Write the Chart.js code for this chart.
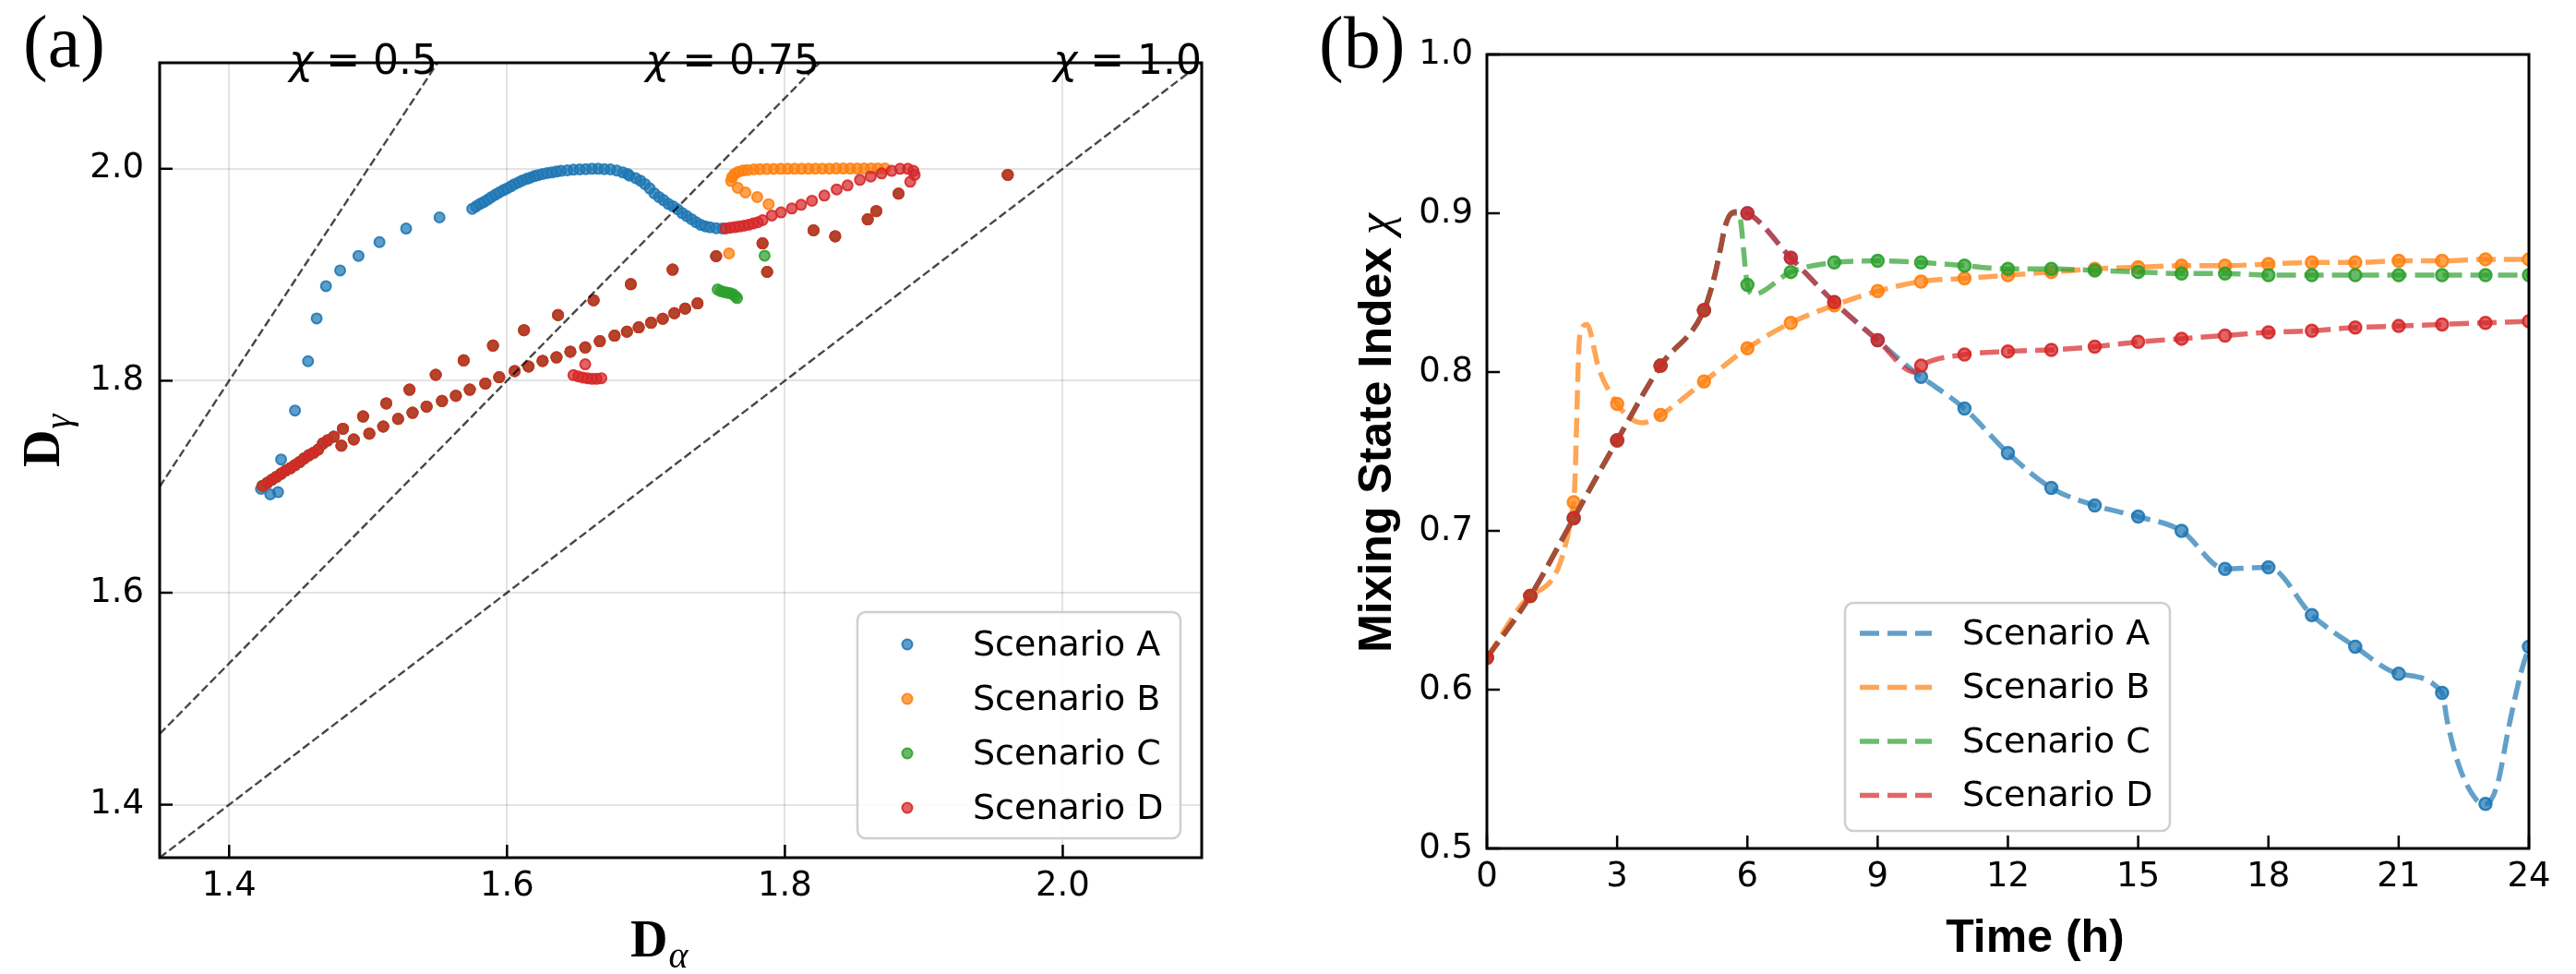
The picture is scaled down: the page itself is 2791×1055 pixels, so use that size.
<!DOCTYPE html>
<html>
<head>
<meta charset="utf-8">
<script src="https://cdn.jsdelivr.net/npm/chart.js@4.4.1/dist/chart.umd.min.js"></script>
<style>
  html, body { margin: 0; padding: 0; background: #fff; }
  #wrap { position: relative; width: 2791px; height: 1055px; overflow: hidden; background: #fff; }
  canvas { position: absolute; top: 0; }
  #panelA { left: 0; }
  #panelB { left: 1395px; }
</style>
</head>
<body>
<div id="wrap">
  <canvas id="panelA" width="1395" height="1055"></canvas>
  <canvas id="panelB" width="1396" height="1055"></canvas>
</div>
<script>
// ---------- shared ----------
const scenarioNames = ['Scenario A', 'Scenario B', 'Scenario C', 'Scenario D'];
const scenarioColors = [[31, 119, 180], [255, 127, 14], [44, 160, 44], [214, 39, 40]];

// ---------- panel (a): D_alpha vs D_gamma ----------
const alphaTicks = [1.4, 1.6, 1.8, 2.0];
const gammaTicks = [1.4, 1.6, 1.8, 2.0];

// chi reference lines (end points on the frame)
const refLabels = ['0.5', '0.75', '1.0'];
const refAlphaStart = [1.35, 1.35, 1.35];
const refGammaStart = [1.70, 1.4667, 1.35];
const refAlphaEnd = [1.55, 1.825, 2.10];
const refGammaEnd = [2.10, 2.10, 2.10];

// early trajectory, common to every scenario
const sharedAlpha = [1.4240, 1.4274, 1.4307, 1.4341, 1.4374, 1.4407, 1.4441, 1.4474, 1.4508, 1.4541, 1.4574, 1.4608, 1.4641, 1.4675, 1.4708, 1.4753,
  1.4819, 1.4964, 1.5131, 1.5298, 1.5487, 1.5688, 1.5899, 1.6122, 1.6367, 1.6623, 1.6891, 1.7192, 1.7505,
  1.4808, 1.4897, 1.5009, 1.5109, 1.5216, 1.5320, 1.5421, 1.5532, 1.5632, 1.5732, 1.5844, 1.5944, 1.6055, 1.6155,
  1.6256, 1.6356, 1.6456, 1.6563, 1.6668, 1.6774, 1.6863, 1.6948, 1.7037, 1.7121, 1.7204, 1.7282, 1.7371,
  1.7839, 1.7872, 1.8206, 1.8362, 1.8596, 1.8658, 1.8818, 1.9604];
const sharedGamma = [1.7007, 1.7036, 1.7065, 1.7094, 1.7123, 1.7152, 1.7175, 1.7204, 1.7233, 1.7268, 1.7297, 1.7320, 1.7350, 1.7408, 1.7437, 1.7472,
  1.7547, 1.7663, 1.7786, 1.7916, 1.8056, 1.8192, 1.8332, 1.8477, 1.8620, 1.8759, 1.8911, 1.9048, 1.9175,
  1.7387, 1.7446, 1.7501, 1.7568, 1.7640, 1.7698, 1.7756, 1.7809, 1.7858, 1.7916, 1.7974, 1.8033, 1.8091, 1.8134,
  1.8187, 1.8221, 1.8274, 1.8314, 1.8373, 1.8425, 1.8463, 1.8504, 1.8547, 1.8585, 1.8637, 1.8681, 1.8730,
  1.9296, 1.9027, 1.9419, 1.9363, 1.9523, 1.9600, 1.9765, 1.9942];

const onlyAAlpha = [1.4229, 1.4296, 1.4352, 1.4374, 1.4474, 1.4568, 1.4630, 1.4697, 1.4799, 1.4931, 1.5082, 1.5274, 1.5514,
  1.5750, 1.5777, 1.5806, 1.5833, 1.5862, 1.5888, 1.5917, 1.5944, 1.5973, 1.6000, 1.6028, 1.6055, 1.6084, 1.6111, 1.6140, 1.6167,
  1.6195, 1.6222, 1.6256, 1.6289, 1.6322, 1.6356, 1.6389, 1.6434, 1.6478, 1.6523, 1.6567, 1.6612, 1.6656, 1.6701, 1.6745, 1.6790,
  1.6834, 1.6868, 1.6881, 1.6926, 1.6960, 1.6993, 1.7027, 1.7060, 1.7094, 1.7127, 1.7161, 1.7194, 1.7228, 1.7261, 1.7294, 1.7328,
  1.7361, 1.7395, 1.7428, 1.7462, 1.7506, 1.7550];
const onlyAGamma = [1.6980, 1.6928, 1.6949, 1.7257, 1.7719, 1.8184, 1.8588, 1.8893, 1.9041, 1.9178, 1.9308, 1.9436, 1.9541,
  1.9622, 1.9645, 1.9669, 1.9686, 1.9709, 1.9733, 1.9756, 1.9776, 1.9797, 1.9814, 1.9834, 1.9855, 1.9872, 1.9890, 1.9904, 1.9916,
  1.9930, 1.9939, 1.9951, 1.9959, 1.9965, 1.9974, 1.9980, 1.9985, 1.9991, 1.9994, 1.9997, 2.0000, 2.0000, 1.9997, 1.9994, 1.9983,
  1.9965, 1.9951, 1.9935, 1.9911, 1.9888, 1.9855, 1.9815, 1.9768, 1.9733, 1.9704, 1.9669, 1.9646, 1.9617, 1.9582, 1.9553, 1.9524,
  1.9495, 1.9471, 1.9457, 1.9448, 1.9439, 1.9437];

const onlyBAlpha = [1.7883, 1.7801, 1.7716, 1.7661, 1.7613, 1.7620, 1.7638, 1.7664, 1.7697, 1.7731, 1.7776, 1.7820, 1.7870, 1.7920,
  1.7970, 1.8020, 1.8070, 1.8120, 1.8170, 1.8220, 1.8270, 1.8320, 1.8370, 1.8420, 1.8470, 1.8520, 1.8570, 1.8620, 1.8670, 1.8720, 1.7598];
const onlyBGamma = [1.9666, 1.9733, 1.9776, 1.9820, 1.9884, 1.9922, 1.9951, 1.9971, 1.9983, 1.9988, 1.9994, 1.9997, 1.9998, 1.9999,
  2.0000, 2.0000, 2.0000, 2.0000, 2.0000, 2.0001, 2.0001, 2.0001, 2.0002, 2.0002, 2.0002, 2.0002, 2.0003, 2.0003, 2.0003, 2.0003, 1.9201];

const onlyCAlpha = [1.7516, 1.7538, 1.7560, 1.7583, 1.7605, 1.7627, 1.7643, 1.7656, 1.7854];
const onlyCGamma = [1.8861, 1.8846, 1.8838, 1.8832, 1.8826, 1.8815, 1.8797, 1.8780, 1.9180];

const onlyDAlpha = [1.7572, 1.7605, 1.7639, 1.7672, 1.7706, 1.7739, 1.7772, 1.7806, 1.7839, 1.7906, 1.7972, 1.8050, 1.8117,
  1.8195, 1.8284, 1.8373, 1.8451, 1.8540, 1.8618, 1.8696, 1.8769, 1.8829, 1.8885, 1.8925, 1.8934, 1.8902,
  1.6478, 1.6512, 1.6545, 1.6578, 1.6612, 1.6645, 1.6679, 1.6563];
const onlyDGamma = [1.9437, 1.9443, 1.9449, 1.9455, 1.9463, 1.9472, 1.9484, 1.9495, 1.9515, 1.9559, 1.9588, 1.9625, 1.9660,
  1.9698, 1.9747, 1.9805, 1.9843, 1.9895, 1.9927, 1.9956, 1.9980, 2.0000, 2.0000, 1.9980, 1.9942, 1.9878,
  1.8053, 1.8041, 1.8030, 1.8024, 1.8018, 1.8018, 1.8024, 1.8155];

// ---------- panel (b): mixing state index over time ----------
const hourTicks = [0, 3, 6, 9, 12, 15, 18, 21, 24];
const chiTicks = [0.5, 0.6, 0.7, 0.8, 0.9, 1.0];
const hours = [0, 1, 2, 3, 4, 5, 6, 7, 8, 9, 10, 11, 12, 13, 14, 15, 16, 17, 18, 19, 20, 21, 22, 23, 24];
const chiA = [0.620, 0.659, 0.708, 0.757, 0.804, 0.839, 0.900, 0.872, 0.844, 0.820, 0.797, 0.777, 0.749, 0.727, 0.716, 0.709, 0.700, 0.676, 0.677, 0.647, 0.627, 0.610, 0.598, 0.528, 0.627];
const chiB = [0.620, 0.659, 0.718, 0.780, 0.773, 0.794, 0.815, 0.831, 0.842, 0.851, 0.857, 0.859, 0.861, 0.863, 0.865, 0.866, 0.867, 0.867, 0.868, 0.869, 0.869, 0.870, 0.870, 0.871, 0.871];
const chiC = [0.620, 0.659, 0.708, 0.757, 0.804, 0.839, 0.855, 0.863, 0.869, 0.870, 0.869, 0.867, 0.865, 0.865, 0.864, 0.863, 0.862, 0.862, 0.861, 0.861, 0.861, 0.861, 0.861, 0.861, 0.861];
const chiD = [0.620, 0.659, 0.708, 0.757, 0.804, 0.839, 0.900, 0.872, 0.844, 0.820, 0.804, 0.811, 0.813, 0.814, 0.816, 0.819, 0.821, 0.823, 0.825, 0.826, 0.828, 0.829, 0.830, 0.831, 0.832];

const extraTimeA = [5.24, 5.39, 5.48, 5.62, 5.76, 9.85, 22.12, 22.39, 22.78, 23.27, 23.54, 23.81];
const extraChiA = [0.860, 0.879, 0.891, 0.8996, 0.901, 0.800, 0.580, 0.552, 0.531, 0.540, 0.577, 0.610];
const extraTimeB = [2.14, 2.30, 2.58, 3.30, 3.57];
const extraChiB = [0.823, 0.830, 0.802, 0.771, 0.768];
const extraTimeC = [5.24, 5.39, 5.48, 5.62, 5.80, 6.14];
const extraChiC = [0.860, 0.879, 0.891, 0.8996, 0.900, 0.849];
const extraTimeD = [5.24, 5.39, 5.48, 5.62, 5.76, 9.85];
const extraChiD = [0.860, 0.879, 0.891, 0.8996, 0.901, 0.800];

// ---------- helpers ----------
const rgba = (c, a) => `rgba(${c[0]},${c[1]},${c[2]},${a})`;
const zip = (xs, ys) => xs.map((x, i) => ({ x: x, y: ys[i] }));
const TICK_FONT = { family: 'DejaVu Sans', size: 37 };

function roundRect(ctx, x, y, w, h, r) {
  ctx.beginPath();
  ctx.moveTo(x + r, y);
  ctx.lineTo(x + w - r, y);
  ctx.arcTo(x + w, y, x + w, y + r, r);
  ctx.lineTo(x + w, y + h - r);
  ctx.arcTo(x + w, y + h, x + w - r, y + h, r);
  ctx.lineTo(x + r, y + h);
  ctx.arcTo(x, y + h, x, y + h - r, r);
  ctx.lineTo(x, y + r);
  ctx.arcTo(x, y, x + r, y, r);
  ctx.closePath();
}

// black frame + inward tick marks, like the matplotlib axes
const frameTicks = {
  id: 'frameTicks',
  afterDatasetsDraw(chart) {
    const { ctx, chartArea: a, scales } = chart;
    ctx.save();
    ctx.strokeStyle = '#000';
    ctx.lineWidth = 2.5;
    scales.x.ticks.forEach(t => {
      const px = scales.x.getPixelForValue(t.value);
      ctx.beginPath(); ctx.moveTo(px, a.bottom); ctx.lineTo(px, a.bottom - 14); ctx.stroke();
    });
    scales.y.ticks.forEach(t => {
      const py = scales.y.getPixelForValue(t.value);
      ctx.beginPath(); ctx.moveTo(a.left, py); ctx.lineTo(a.left + 14, py); ctx.stroke();
    });
    ctx.lineWidth = 3;
    ctx.strokeRect(a.left, a.top, a.right - a.left, a.bottom - a.top);
    ctx.restore();
  }
};

function legendFrame(ctx, box) {
  roundRect(ctx, box.left, box.top, box.width, box.height, 9);
  ctx.fillStyle = 'rgba(255,255,255,0.85)';
  ctx.fill();
  ctx.lineWidth = 2.5;
  ctx.strokeStyle = 'rgba(204,204,204,0.95)';
  ctx.stroke();
}

// ---------- panel (a) chart ----------
const ownAlpha = [onlyAAlpha, onlyBAlpha, onlyCAlpha, onlyDAlpha];
const ownGamma = [onlyAGamma, onlyBGamma, onlyCGamma, onlyDGamma];

const scatterSets = scenarioNames.map((name, i) => ({
  label: name,
  data: zip(sharedAlpha.concat(ownAlpha[i]), sharedGamma.concat(ownGamma[i])),
  pointRadius: 5.5,
  pointBorderWidth: 2,
  pointBackgroundColor: rgba(scenarioColors[i], 0.72),
  pointBorderColor: rgba(scenarioColors[i], 0.88),
  order: 4 - i
}));

const refSets = refLabels.map((lab, i) => ({
  data: [{ x: refAlphaStart[i], y: refGammaStart[i] }, { x: refAlphaEnd[i], y: refGammaEnd[i] }],
  showLine: true,
  borderColor: 'rgba(0,0,0,0.72)',
  borderWidth: 2.4,
  borderDash: [9, 4],
  pointRadius: 0,
  clip: 0,
  order: 0
}));

const panelADecor = {
  id: 'panelADecor',
  afterDraw(chart) {
    const { ctx, scales: { x, y } } = chart;
    ctx.save();
    ctx.fillStyle = '#000';
    // chi labels sitting on the top spine, right-aligned to each line's end
    refLabels.forEach((lab, i) => {
      const right = x.getPixelForValue(refAlphaEnd[i]);
      const base = y.getPixelForValue(refGammaEnd[i]) + 12;
      ctx.textBaseline = 'alphabetic';
      ctx.font = "44px 'DejaVu Sans'";
      const rest = ' = ' + lab;
      const wRest = ctx.measureText(rest).width;
      ctx.fillText(rest, right - wRest, base);
      ctx.font = "italic 44px 'DejaVu Sans'";
      const wChi = ctx.measureText('χ').width;
      ctx.fillText('χ', right - wRest - wChi, base);
    });
    // legend
    legendFrame(ctx, { left: 929, top: 663, width: 350, height: 245 });
    ctx.font = "38px 'DejaVu Sans'";
    ctx.textBaseline = 'middle';
    scenarioNames.forEach((name, i) => {
      const ry = 698 + i * 59;
      ctx.beginPath();
      ctx.arc(983, ry, 5.5, 0, Math.PI * 2);
      ctx.fillStyle = rgba(scenarioColors[i], 0.72);
      ctx.fill();
      ctx.lineWidth = 2;
      ctx.strokeStyle = rgba(scenarioColors[i], 0.88);
      ctx.stroke();
      ctx.fillStyle = '#000';
      ctx.fillText(name, 1054, ry + 2);
    });
    // axis titles
    ctx.textBaseline = 'alphabetic';
    ctx.font = "bold 56px 'Liberation Serif'";
    const wD = ctx.measureText('D').width;
    ctx.fillText('D', 683, 1036);
    ctx.font = "italic 40px 'Liberation Serif'";
    ctx.fillText('α', 683 + wD + 1, 1048);

    ctx.save();
    ctx.translate(64, 506);
    ctx.rotate(-Math.PI / 2);
    ctx.font = "bold 56px 'Liberation Serif'";
    ctx.fillText('D', 0, 0);
    ctx.font = "italic 40px 'Liberation Serif'";
    ctx.fillText('γ', wD + 1, 12);
    ctx.restore();

    // panel label
    ctx.font = "80px 'Liberation Serif'";
    ctx.fillText('(a)', 25, 72);
    ctx.restore();
  }
};

new Chart(document.getElementById('panelA'), {
  type: 'scatter',
  data: { datasets: refSets.concat(scatterSets) },
  options: {
    responsive: false,
    animation: false,
    devicePixelRatio: 1,
    events: [],
    layout: { padding: { top: 68, right: 93, left: 0, bottom: 0 } },
    scales: {
      x: {
        type: 'linear', min: 1.35, max: 2.1,
        afterBuildTicks: s => { s.ticks = alphaTicks.map(v => ({ value: v })); },
        afterFit: s => { s.height = 126; },
        ticks: { font: TICK_FONT, color: '#000', padding: 9, maxRotation: 0, autoSkip: false, callback: v => v.toFixed(1) },
        grid: { color: 'rgba(0,0,0,0.11)', lineWidth: 2, drawTicks: false },
        border: { display: false }
      },
      y: {
        type: 'linear', min: 1.35, max: 2.1,
        afterBuildTicks: s => { s.ticks = gammaTicks.map(v => ({ value: v })); },
        afterFit: s => { s.width = 173; },
        ticks: { font: TICK_FONT, color: '#000', padding: 17, autoSkip: false, callback: v => v.toFixed(1) },
        grid: { color: 'rgba(0,0,0,0.11)', lineWidth: 2, drawTicks: false },
        border: { display: false }
      }
    },
    plugins: { legend: { display: false }, tooltip: { enabled: false } }
  },
  plugins: [frameTicks, panelADecor]
});

// ---------- panel (b) chart ----------
const chiSeries = [chiA, chiB, chiC, chiD];
const extraTimes = [extraTimeA, extraTimeB, extraTimeC, extraTimeD];
const extraChis = [extraChiA, extraChiB, extraChiC, extraChiD];

const bSets = [];
scenarioNames.forEach((name, i) => {
  const curve = zip(hours.concat(extraTimes[i]), chiSeries[i].concat(extraChis[i])).sort((p, q) => p.x - q.x);
  bSets.push({
    label: name,
    data: curve,
    borderColor: rgba(scenarioColors[i], 0.7),
    borderWidth: 5.5,
    borderDash: [21, 9],
    cubicInterpolationMode: 'monotone',
    pointRadius: 0,
    fill: false,
    clip: 0,
    order: 2 * (3 - i) + 2
  });
  bSets.push({
    data: zip(hours, chiSeries[i]),
    showLine: false,
    pointRadius: 6.5,
    pointBorderWidth: 2.5,
    pointBackgroundColor: rgba(scenarioColors[i], 0.72),
    pointBorderColor: rgba(scenarioColors[i], 0.9),
    clip: 0,
    order: 2 * (3 - i) + 1
  });
});

const panelBDecor = {
  id: 'panelBDecor',
  afterDraw(chart) {
    const { ctx } = chart;
    ctx.save();
    ctx.fillStyle = '#000';
    // legend
    legendFrame(ctx, { left: 604, top: 653, width: 352, height: 247 });
    ctx.font = "38px 'DejaVu Sans'";
    ctx.textBaseline = 'middle';
    scenarioNames.forEach((name, i) => {
      const ry = 686 + i * 58.5;
      ctx.save();
      ctx.setLineDash([21, 9]);
      ctx.lineWidth = 5.5;
      ctx.strokeStyle = rgba(scenarioColors[i], 0.7);
      ctx.beginPath(); ctx.moveTo(620, ry); ctx.lineTo(698, ry); ctx.stroke();
      ctx.restore();
      ctx.fillStyle = '#000';
      ctx.fillText(name, 731, ry + 2);
    });
    // axis titles
    ctx.textBaseline = 'alphabetic';
    ctx.font = "bold 50px 'Liberation Sans'";
    const tW = ctx.measureText('Time (h)').width;
    ctx.fillText('Time (h)', 810 - tW / 2, 1031);

    const main = 'Mixing State Index ';
    const w1 = ctx.measureText(main).width;
    ctx.font = "italic 52px 'Liberation Serif'";
    const w2 = ctx.measureText('χ').width;
    ctx.save();
    ctx.translate(112, 469 + (w1 + w2) / 2);
    ctx.rotate(-Math.PI / 2);
    ctx.font = "bold 50px 'Liberation Sans'";
    ctx.fillText(main, 0, 0);
    ctx.font = "italic 52px 'Liberation Serif'";
    ctx.fillText('χ', w1, 0);
    ctx.restore();

    ctx.font = "80px 'Liberation Serif'";
    ctx.fillText('(b)', 34, 73);
    ctx.restore();
  }
};

new Chart(document.getElementById('panelB'), {
  type: 'line',
  data: { datasets: bSets },
  options: {
    responsive: false,
    animation: false,
    devicePixelRatio: 1,
    events: [],
    layout: { padding: { top: 59, right: 51, left: 0, bottom: 0 } },
    scales: {
      x: {
        type: 'linear', min: 0, max: 24,
        afterBuildTicks: s => { s.ticks = hourTicks.map(v => ({ value: v })); },
        afterFit: s => { s.height = 136; },
        ticks: { font: TICK_FONT, color: '#000', padding: 9, maxRotation: 0, autoSkip: false, callback: v => String(v) },
        grid: { display: false, drawTicks: false },
        border: { display: false }
      },
      y: {
        type: 'linear', min: 0.5, max: 1.0,
        afterBuildTicks: s => { s.ticks = chiTicks.map(v => ({ value: v })); },
        afterFit: s => { s.width = 216; },
        ticks: { font: TICK_FONT, color: '#000', padding: 15, autoSkip: false, callback: v => v.toFixed(1) },
        grid: { display: false, drawTicks: false },
        border: { display: false }
      }
    },
    plugins: { legend: { display: false }, tooltip: { enabled: false } }
  },
  plugins: [frameTicks, panelBDecor]
});
</script>
</body>
</html>
